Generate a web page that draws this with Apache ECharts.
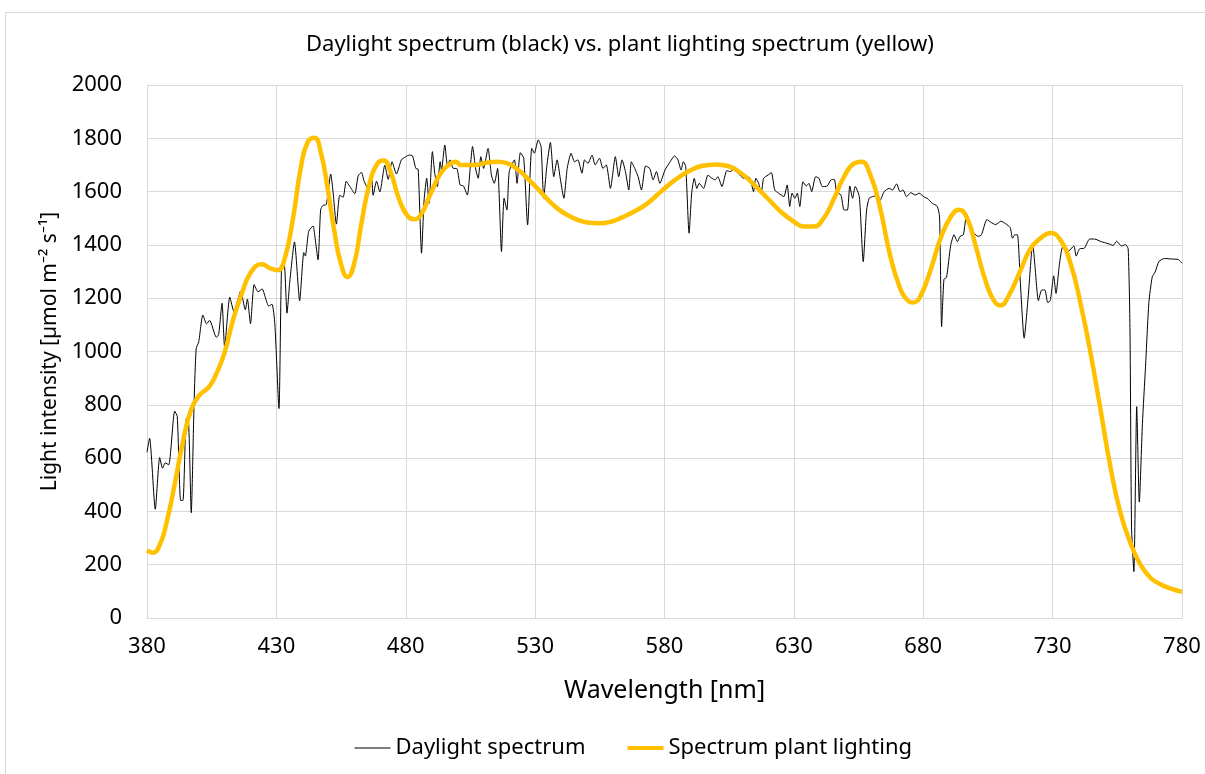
<!DOCTYPE html>
<html>
<head>
<meta charset="utf-8">
<script src="https://cdn.jsdelivr.net/npm/echarts@6/dist/echarts.min.js"></script>
<style>
  html, body { margin: 0; padding: 0; background: #fff; }
  #chart { width: 1205px; height: 774px; }
</style>
</head>
<body>
<div id="chart"></div>
<script>
// wavelength (nm) and intensity of the daylight spectrum
const daylightNm = [380, 381, 383.2, 384.9, 386, 387, 388.4, 390.7, 391.7, 393, 393.9, 395.2, 396.1, 397.1, 398.2, 399, 400,
  401.6, 403, 404.2, 406.8, 407.7, 409, 410, 412, 413.6, 415.2, 416.2, 418, 418.8, 420, 421.4, 422.9, 424.5, 425.7, 427,
  428.3, 429.4, 431, 432, 433, 434.1, 435.2, 437, 439, 440.6, 441.2, 442.5, 444.2, 444.8, 446.1, 447.1, 448, 449.3, 451,
  451.9, 453.2, 454.5, 455.8, 457, 458.4, 460.3, 461.6, 462.9, 463.9, 465.4, 466.7, 467.4, 468.7, 470, 471.9, 473.2,
  474.7, 476.4, 478.3, 480, 481.3, 482.6, 483.9, 484.8, 486.1, 487.1, 488.1, 489, 490.3, 491.2, 492.2, 493.3, 493.8,
  495.1, 496.1, 497.1, 498.4, 499.7, 501, 502.3, 503.8, 504.9, 505.8, 507.1, 508, 509, 510.1, 511.8, 513.1, 514.2, 515.5,
  517, 518, 519.1, 520, 522, 523, 524.3, 525.6, 527.1, 528.7, 529.7, 531.2, 532.3, 533.3, 534.5, 535.9, 537.2, 538.5,
  539.8, 541.1, 542.4, 543.9, 545.2, 546.5, 548.1, 549.1, 550.4, 552, 553.2, 554.9, 556.2, 557.5, 559.1, 561, 562.3,
  563.6, 564.9, 566.2, 567.2, 568.5, 569.8, 571.1, 572.7, 574.3, 575.6, 576.9, 578.2, 580.2, 582.2, 583.9, 585.2, 586.4,
  587.3, 588.2, 589.5, 590.5, 591.5, 592.5, 593.4, 595.1, 596.8, 598.3, 599.6, 600.6, 602.2, 604.1, 605.4, 606.7, 608.4,
  610.6, 612.8, 614.4, 615.3, 616.4, 617.4, 618.3, 620, 621.3, 622.6, 624.1, 626.1, 627.4, 628.4, 629.3, 630.4, 631.3,
  632.3, 633.5, 634.8, 635.8, 636.9, 638.4, 639.7, 641, 642.9, 644.3, 645.6, 646.5, 648.2, 649.4, 650.7, 651.6, 652.7,
  653.7, 655.3, 656.8, 658.1, 659.1, 660.4, 661.7, 663.2, 664.9, 666.8, 668.1, 669.7, 671, 672.2, 673.5, 675.2, 676.9,
  678.4, 680.4, 681.5, 683.5, 685.4, 686.3, 687.1, 688, 689, 690.6, 691.9, 693.2, 694.2, 695.5, 696.8, 697.7, 699, 701.2,
  702.5, 704.6, 706.1, 708, 710, 711.9, 713.6, 714.5, 715.4, 716.4, 717.5, 719, 720.6, 722.3, 723.2, 724.5, 725.8, 727,
  728.1, 729.1, 730.4, 731.3, 732.6, 733.9, 735.8, 738.2, 739.1, 740.4, 742.3, 744.3, 746.2, 748.8, 751.4, 753.4, 754.7,
  756.6, 758.2, 759.2, 759.9, 760.5, 761.4, 762.5, 763.5, 764.7, 765.9, 767.2, 768.5, 769.6, 771.1, 773.2, 776, 778.6, 780];
const daylightVal = [622, 675, 408, 602, 562, 582, 575, 776, 756, 441, 441, 749, 729, 395, 809, 1010, 1037,
  1137, 1104, 1117, 1053, 1064, 1181, 1017, 1204, 1150, 1197, 1227, 1157, 1197, 1104, 1251, 1224, 1235, 1204, 1171,
  1177, 1104, 786, 1318, 1331, 1144, 1264, 1411, 1191, 1371, 1358, 1451, 1471, 1438, 1344, 1532, 1548, 1552, 1666,
  1599, 1478, 1586, 1579, 1639, 1619, 1592, 1659, 1672, 1639, 1612, 1666, 1586, 1639, 1599, 1699, 1646,
  1712, 1666, 1719, 1731, 1737, 1734, 1687, 1684, 1369, 1569, 1650, 1556, 1750, 1669, 1619, 1712, 1681,
  1775, 1700, 1719, 1687, 1687, 1625, 1621, 1587, 1687, 1769, 1681, 1650, 1731, 1687, 1762, 1662, 1631, 1687,
  1375, 1575, 1531, 1675, 1719, 1631, 1746, 1725, 1475, 1762, 1744, 1794, 1769, 1575, 1694, 1784, 1656, 1719,
  1644, 1575, 1687, 1744, 1712, 1719, 1669, 1719, 1706, 1737, 1700, 1725, 1687, 1700, 1612, 1731, 1656,
  1719, 1675, 1606, 1712, 1687, 1656, 1606, 1696, 1687, 1644, 1675, 1631, 1681, 1712, 1734, 1719, 1681,
  1712, 1694, 1444, 1594, 1650, 1612, 1631, 1612, 1662, 1650, 1644, 1656, 1619, 1679, 1675, 1684, 1669,
  1650, 1654, 1600, 1650, 1631, 1594, 1650, 1662, 1671, 1606, 1594, 1581, 1625, 1544, 1594, 1575, 1594,
  1544, 1637, 1621, 1631, 1600, 1656, 1650, 1619, 1621, 1644, 1646, 1600, 1587, 1531, 1531, 1621, 1575,
  1619, 1581, 1337, 1531, 1575, 1581, 1584, 1566, 1600, 1612, 1606, 1629, 1600, 1606, 1581, 1596, 1587,
  1594, 1579, 1575, 1556, 1545, 1505, 1093, 1271, 1278, 1398, 1438, 1412, 1432, 1438, 1516, 1492, 1452, 1432,
  1438, 1495, 1485, 1476, 1489, 1479, 1465, 1425, 1438, 1438, 1264, 1050, 1211, 1405, 1318, 1191, 1231, 1231,
  1184, 1191, 1284, 1218, 1325, 1392, 1374, 1396, 1358, 1385, 1388, 1422, 1422, 1412, 1405, 1398, 1414,
  1396, 1401, 1385, 1077, 341, 174, 793, 435, 729, 943, 1184, 1280, 1298, 1338, 1349, 1347, 1345, 1331];

// plant lighting spectrum (smooth yellow curve)
const plantNm = [380, 382.3, 384.9, 387.5, 390.7, 393.9, 397.1, 400.3, 404.2, 407.4, 410, 413.2, 416.4, 420.2, 424.3,
  427.9, 430.5, 433.1, 436.3, 439.5, 442.1, 444.7, 447.2, 449.8, 452.4, 454.9, 457.5, 460.1, 462.6, 465.9, 469.1,
  471.4, 474.2, 477.4, 480.6, 483.2, 485.8, 489.7, 493.5, 497.4, 499.3, 501.3, 506.4, 511.6, 515.4, 519.3, 523.2,
  527, 530.9, 534.8, 538.6, 542.5, 546.4, 550.2, 554.7, 559.3, 563.8, 568.3, 573.4, 578.6, 584.1, 589.2, 594.3, 600,
  604.5, 609.6, 614.7, 619.8, 624.9, 630, 633.8, 637.6, 641.5, 645.3, 649.1, 653, 656.1, 659.3, 663.2, 667, 670.8,
  674, 675.9, 678.5, 682.8, 686.7, 690.6, 693.8, 697, 700.2, 704.1, 707.3, 709.9, 713.1, 717, 721.4, 725.3, 729.2,
  733, 736.9, 740.7, 744.6, 748.5, 752.3, 756.2, 760.1, 763.9, 767.8, 771.6, 775.5, 780];
const plantVal = [254, 245, 274, 355, 502, 662, 783, 836, 870, 930, 997, 1117, 1211, 1298, 1327,
  1311, 1305, 1345, 1492, 1693, 1786, 1802, 1746, 1612, 1452, 1331, 1280, 1331, 1465, 1626, 1706,
  1717, 1672, 1572, 1510, 1496, 1512, 1594, 1669, 1706, 1712, 1700, 1700, 1709, 1712, 1706, 1684,
  1650, 1612, 1571, 1537, 1512, 1494, 1484, 1481, 1487, 1504, 1525, 1556, 1600, 1644, 1675, 1696, 1702,
  1696, 1669, 1625, 1575, 1525, 1487, 1469, 1469, 1500, 1569, 1650, 1704, 1712, 1669, 1544, 1369, 1244,
  1191, 1184, 1200, 1305, 1425, 1505, 1532, 1499, 1398, 1264, 1191, 1173, 1211, 1291, 1385, 1425, 1445,
  1418, 1331, 1184, 997, 783, 569, 395, 281, 201, 151, 127, 111, 98];

const fontName = "'Noto Sans', sans-serif";
const textColor = "#000";
const gridColor = "#d9d9d9";

let chart = echarts.init(document.getElementById("chart"));
chart.setOption({
  animation: false,
  backgroundColor: "#fff",
  graphic: [
    {
      // chart frame
      type: "rect",
      shape: { x: 5.5, y: 12.5, width: 1220, height: 800 },
      style: { fill: "none", stroke: gridColor, lineWidth: 1 },
      silent: true
    }
  ],
  title: {
    text: "Daylight spectrum (black) vs. plant lighting spectrum (yellow)",
    left: 301,
    top: 29,
    textStyle: { fontFamily: fontName, fontSize: 22, fontWeight: "normal", color: textColor }
  },
  legend: {
    bottom: 10,
    left: 349,
    itemWidth: 36,
    itemHeight: 12,
    itemGap: 40,
    itemStyle: { opacity: 0 },
    textStyle: { fontFamily: fontName, fontSize: 22, color: textColor },
    data: [
      { name: "Daylight spectrum", lineStyle: { width: 1, color: "#000" } },
      { name: "Spectrum plant lighting", lineStyle: { width: 4, color: "#FFC000" } }
    ]
  },
  grid: { left: 147, right: 23, top: 85, bottom: 156 },
  xAxis: {
    type: "value",
    min: 380,
    max: 780,
    interval: 50,
    name: "Wavelength [nm]",
    nameLocation: "middle",
    nameGap: 60,
    nameTextStyle: { fontFamily: fontName, fontSize: 25, color: textColor },
    axisLine: { show: true, lineStyle: { color: gridColor } },
    axisTick: { show: false },
    axisLabel: { fontFamily: fontName, fontSize: 22, color: textColor, margin: 18 },
    splitLine: { show: true, lineStyle: { color: gridColor } }
  },
  yAxis: {
    type: "value",
    min: 0,
    max: 2000,
    interval: 200,
    name: "Light intensity [µmol m⁻² s⁻¹]",
    nameLocation: "middle",
    nameGap: 85,
    nameTextStyle: { fontFamily: fontName, fontSize: 21, color: textColor },
    axisLine: { show: true, lineStyle: { color: gridColor } },
    axisTick: { show: false },
    axisLabel: {
      fontFamily: fontName,
      fontSize: 22,
      color: textColor,
      margin: 25,
      formatter: v => String(v)
    },
    splitLine: { show: true, lineStyle: { color: gridColor } }
  },
  series: [
    {
      name: "Daylight spectrum",
      type: "line",
      symbol: "none",
      smooth: 0.2,
      data: daylightNm.map((x, i) => [x, daylightVal[i]]),
      lineStyle: { color: "#000", width: 1 },
      itemStyle: { color: "#000" },
      z: 3
    },
    {
      name: "Spectrum plant lighting",
      type: "line",
      symbol: "none",
      smooth: 0.5,
      data: plantNm.map((x, i) => [x, plantVal[i]]),
      lineStyle: { color: "#FFC000", width: 4.5 },
      itemStyle: { color: "#FFC000" },
      z: 4
    }
  ]
});
</script>
</body>
</html>
